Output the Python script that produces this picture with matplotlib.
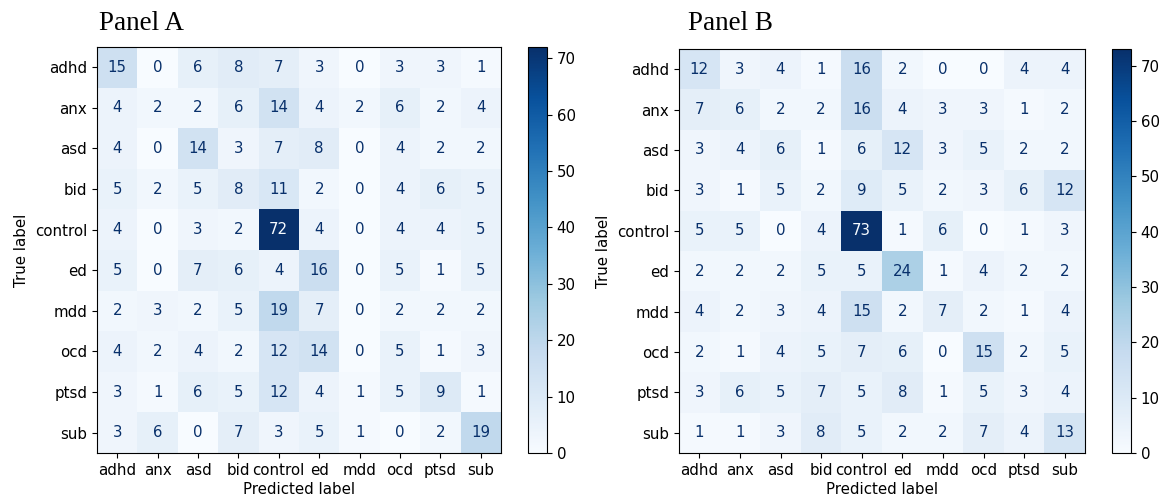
import numpy as np
import matplotlib
matplotlib.use("Agg")
import matplotlib.pyplot as plt

labels = ["adhd", "anx", "asd", "bid", "control", "ed", "mdd", "ocd", "ptsd", "sub"]

panel_a = [
    [15, 0, 6, 8, 7, 3, 0, 3, 3, 1],
    [4, 2, 2, 6, 14, 4, 2, 6, 2, 4],
    [4, 0, 14, 3, 7, 8, 0, 4, 2, 2],
    [5, 2, 5, 8, 11, 2, 0, 4, 6, 5],
    [4, 0, 3, 2, 72, 4, 0, 4, 4, 5],
    [5, 0, 7, 6, 4, 16, 0, 5, 1, 5],
    [2, 3, 2, 5, 19, 7, 0, 2, 2, 2],
    [4, 2, 4, 2, 12, 14, 0, 5, 1, 3],
    [3, 1, 6, 5, 12, 4, 1, 5, 9, 1],
    [3, 6, 0, 7, 3, 5, 1, 0, 2, 19],
]

panel_b = [
    [12, 3, 4, 1, 16, 2, 0, 0, 4, 4],
    [7, 6, 2, 2, 16, 4, 3, 3, 1, 2],
    [3, 4, 6, 1, 6, 12, 3, 5, 2, 2],
    [3, 1, 5, 2, 9, 5, 2, 3, 6, 12],
    [5, 5, 0, 4, 73, 1, 6, 0, 1, 3],
    [2, 2, 2, 5, 5, 24, 1, 4, 2, 2],
    [4, 2, 3, 4, 15, 2, 7, 2, 1, 4],
    [2, 1, 4, 5, 7, 6, 0, 15, 2, 5],
    [3, 6, 5, 7, 5, 8, 1, 5, 3, 4],
    [1, 1, 3, 8, 5, 2, 2, 7, 4, 13],
]

titles = ["Panel A", "Panel B"]

FS = 10.8
plt.rcParams.update({
    "font.family": ["DejaVu Sans"],
    "font.size": FS,
    "xtick.labelsize": FS,
    "ytick.labelsize": FS,
    "axes.labelsize": FS,
})

W, H = 1167, 501
fig = plt.figure(figsize=(W / 100, H / 100), dpi=100)


def px_axes(x0, y0, x1, y1):
    return fig.add_axes([x0 / W, 1 - y1 / H, (x1 - x0) / W, (y1 - y0) / H])


def draw(cm, ax_box, cax_box, title, title_xy):
    cm = np.array(cm)
    ax = px_axes(*ax_box)
    cax = px_axes(*cax_box)
    cmap = plt.get_cmap("Blues")
    im = ax.imshow(cm, cmap=cmap, interpolation="nearest", aspect="auto")
    cmin, cmax = cmap(0.0), cmap(1.0)
    thresh = (cm.max() + cm.min()) / 2.0
    n = cm.shape[0]
    for i in range(n):
        for j in range(n):
            color = cmax if cm[i, j] < thresh else cmin
            ax.text(j, i, str(cm[i, j]), ha="center", va="center", color=color, fontsize=FS)
    ax.set_xticks(range(n))
    ax.set_yticks(range(n))
    ax.set_xticklabels(labels)
    ax.set_yticklabels(labels)
    ax.set_xlabel("Predicted label", labelpad=3)
    ax.set_ylabel("True label")
    ax.set_xlim(-0.5, n - 0.5)
    ax.set_ylim(n - 0.5, -0.5)
    fig.colorbar(im, cax=cax)
    fig.text(title_xy[0] / W, 1 - title_xy[1] / H, title, fontsize=19.5,
             family="Liberation Serif", ha="left", va="baseline")


draw(panel_a, (97, 47, 501, 453), (528, 47, 547, 453), titles[0], (99, 30))
draw(panel_b, (679, 49, 1085, 453), (1112, 49, 1131, 453), titles[1], (688, 30))

fig.savefig("out.png", dpi=100)
